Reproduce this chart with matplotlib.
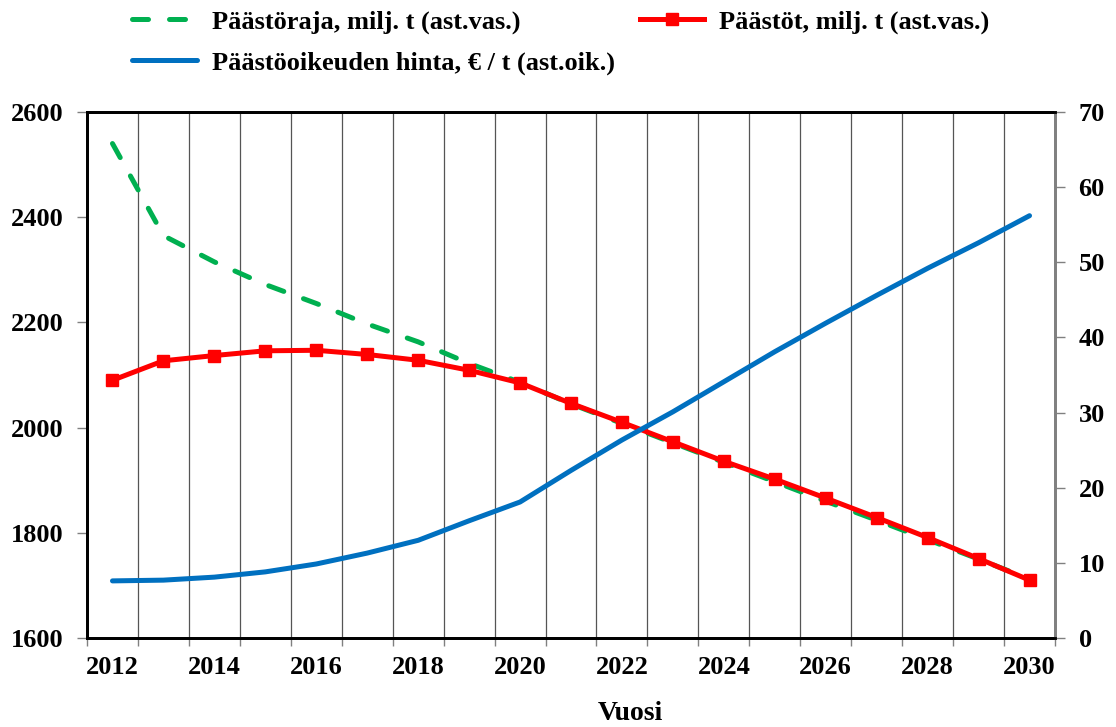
import matplotlib
matplotlib.use('Agg')
import matplotlib.pyplot as plt
import numpy as np

years = list(range(2012, 2031))
paastoraja = [2540, 2365, 2315, 2272, 2236, 2197, 2163, 2122, 2086,
              2045, 2008, 1971, 1934, 1897, 1860, 1824, 1787, 1750, 1712]
paastot = [2090, 2127, 2137, 2146, 2147, 2139, 2128, 2109, 2085,
           2046, 2010, 1973, 1936, 1902, 1866, 1829, 1791, 1751, 1710]
hinta = [7.6, 7.7, 8.1, 8.8, 9.85, 11.3, 13.0, 15.6, 18.1,
         22.3, 26.35, 30.1, 34.1, 38.1, 41.9, 45.6, 49.2, 52.6, 56.2]
xtick_labels = [str(y) for y in range(2012, 2031, 2)]

plt.rcParams['font.family'] = ['Liberation Serif', 'DejaVu Serif']
plt.rcParams['font.weight'] = 'bold'
FS = 19

fig = plt.figure(figsize=(11.16, 7.27), dpi=100)
ax = fig.add_axes([87/1116, 1-638/727, (1055-87)/1116, (638-112)/727])
ax2 = ax.twinx()

# vertical grid lines at category borders
for b in np.arange(2012.5, 2030, 1.0):
    ax.axvline(b, color='#555555', lw=0.9, zorder=0)

l_green, = ax.plot(years, paastoraja, color='#00B050', lw=3.6,
                   dashes=(3.2, 4.2), dash_capstyle='round', zorder=2,
                   label='Päästöraja, milj. t (ast.vas.)')
l_red, = ax.plot(years, paastot, color='#FF0000', lw=3.6, marker='s',
                 markersize=8, zorder=3, label='Päästöt, milj. t (ast.vas.)')
l_blue, = ax2.plot(years, hinta, color='#0070C0', lw=3.6,
                   solid_capstyle='round',
                   label='Päästöoikeuden hinta, € / t (ast.oik.)')

ax.set_xlim(2011.5, 2030.5)
ax.set_ylim(1600, 2600)
ax.set_yticks(range(1600, 2601, 200))
ax2.set_ylim(0, 70)
ax2.set_yticks(range(0, 71, 10))

ax.set_xticks(np.arange(2011.5, 2031, 1.0))
ax.set_xticklabels([])
ax.set_xticks(range(2012, 2031, 2), minor=True)
ax.set_xticklabels(xtick_labels, minor=True, fontsize=FS, fontweight='bold')
ax.tick_params(axis='x', which='major', direction='out', length=6, width=1, color='gray')
ax.tick_params(axis='x', which='minor', length=0, pad=13)
ax.tick_params(axis='y', direction='out', length=7, width=1, color='gray',
               labelsize=FS, pad=10)
ax2.tick_params(axis='y', direction='out', length=7, width=1, color='gray',
                labelsize=FS, pad=10)
for lab in ax.get_yticklabels() + ax2.get_yticklabels():
    lab.set_fontweight('bold')

for a in (ax, ax2):
    a.spines['left'].set_linewidth(2)
    a.spines['left'].set_color('black')
    a.spines['bottom'].set_linewidth(2)
    a.spines['bottom'].set_color('black')
    a.spines['top'].set_linewidth(2)
    a.spines['top'].set_color('black')
    a.spines['right'].set_linewidth(2)
    a.spines['right'].set_color('gray')

fig.text(630/1116, 1-713/727, 'Vuosi', ha='center', va='center',
         fontsize=FS + 1, fontweight='bold')

fig.legend(handles=[l_green, l_blue, l_red], ncol=2, loc='upper left',
           bbox_to_anchor=(114/1116, 1.012), frameon=False, borderpad=0.2,
           handlelength=2.45, handletextpad=0.55,
           columnspacing=0.95, labelspacing=0.65,
           prop={'weight': 'bold', 'size': FS})

fig.savefig('out.png', dpi=100)
